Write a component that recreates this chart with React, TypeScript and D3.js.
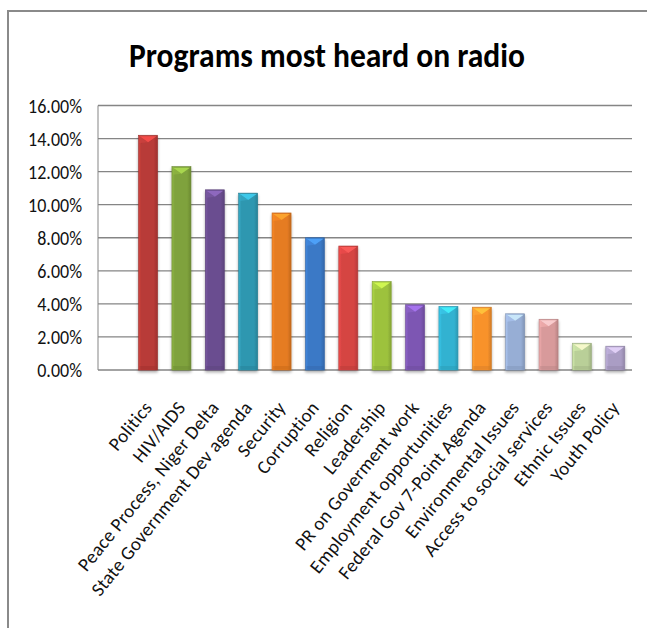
import React from "react";
import * as d3 from "d3";

const categories = [
  "Politics",
  "HIV/AIDS",
  "Peace Process, Niger Delta",
  "State Government Dev agenda",
  "Security",
  "Corruption",
  "Religion",
  "Leadership",
  "PR on Goverment work",
  "Employment opportunities",
  "Federal Gov 7-Point Agenda",
  "Environmental Issues",
  "Access to social services",
  "Ethnic Issues",
  "Youth Policy",
];

const values = [14.2, 12.3, 10.9, 10.7, 9.5, 8.0, 7.5, 5.35, 3.95, 3.85, 3.8, 3.4, 3.07, 1.62, 1.44];

const barColors = [
  "#B83A37", "#7FA23C", "#6B4E90", "#2F97B0", "#E57B22", "#3B79C6",
  "#D54443", "#9DC23E", "#7D57B3", "#32B2D1", "#F8922C", "#97AED5",
  "#D89A9B", "#B9CF98", "#AA9DC4",
];

const yTicks = [0, 2, 4, 6, 8, 10, 12, 14, 16];

const title = "Programs most heard on radio";

const W = 647;
const H = 628;
const plotLeft = 98;
const plotRight = 632;
const plotTop = 105.5;
const plotBottom = 370;
const font = "Carlito, Calibri, Lato, 'Open Sans', sans-serif";

export default function App() {
  const y = d3.scaleLinear().domain([0, 16]).range([plotBottom, plotTop]);
  const bandStep = (plotRight - plotLeft) / 16;
  const x = d3
    .scaleBand<string>()
    .domain(categories)
    .range([plotLeft + bandStep, plotRight])
    .paddingInner(0.43)
    .paddingOuter(0.215);
  const bw = x.bandwidth();

  return (
    <svg
      width={W}
      height={H}
      style={{ position: "absolute", left: 0, top: 0, background: "#fff" }}
    >
      <defs>
        {barColors.map((c, i) => {
          const base = d3.color(c)!;
          const light = d3.rgb(c).brighter(0.35).formatHex();
          const dark = d3.rgb(c).darker(0.45).formatHex();
          return (
            <linearGradient key={i} id={`g${i}`} x1="0" x2="1" y1="0" y2="0">
              <stop offset="0" stopColor={light} />
              <stop offset="0.15" stopColor={base.formatHex()} />
              <stop offset="0.8" stopColor={base.formatHex()} />
              <stop offset="1" stopColor={dark} />
            </linearGradient>
          );
        })}
        <filter id="shadow" x="-30%" y="-10%" width="160%" height="130%">
          <feGaussianBlur in="SourceAlpha" stdDeviation="1.5" />
          <feOffset dx="0" dy="2" result="ob" />
          <feComponentTransfer>
            <feFuncA type="linear" slope="0.35" />
          </feComponentTransfer>
          <feMerge>
            <feMergeNode />
            <feMergeNode in="SourceGraphic" />
          </feMerge>
        </filter>
      </defs>

      {/* frame */}
      <line x1={7} x2={W} y1={11} y2={11} stroke="#8a8a8a" strokeWidth={2} />
      <line x1={8} x2={8} y1={10} y2={H} stroke="#8a8a8a" strokeWidth={2} />

      {/* title */}
      <text
        x={327}
        y={67}
        textAnchor="middle"
        fontFamily={font}
        fontWeight="bold"
        fontSize={35}
        textLength={396}
        lengthAdjust="spacingAndGlyphs"
        fill="#000"
      >
        {title}
      </text>

      {/* gridlines */}
      {yTicks.map((t) => (
        <line
          key={t}
          x1={plotLeft}
          x2={plotRight}
          y1={y(t)}
          y2={y(t)}
          stroke="#858585"
          strokeWidth={1.3}
        />
      ))}
      <line x1={plotLeft} x2={plotLeft} y1={plotTop} y2={plotBottom} stroke="#858585" strokeWidth={1} />

      {/* y tick labels */}
      {yTicks.map((t) => (
        <text
          key={t}
          transform={`translate(82,${y(t)}) scale(0.9,1)`}
          dy="0.36em"
          textAnchor="end"
          fontFamily={font}
          fontSize={20}
          fill="#111"
        >
          {t.toFixed(2) + "%"}
        </text>
      ))}

      {/* bars */}
      {categories.map((c, i) => {
        const x0 = x(c)!;
        const top = y(values[i]);
        const h = plotBottom - top;
        const bev = 7;
        const hl = d3.rgb(barColors[i]).brighter(0.9).formatHex();
        const hl2 = d3.rgb(barColors[i]).brighter(0.45).formatHex();
        const dk = d3.rgb(barColors[i]).darker(0.5).formatHex();
        return (
          <g key={c} filter="url(#shadow)">
            <rect x={x0} y={top} width={bw} height={h} fill={`url(#g${i})`} stroke={dk} strokeWidth={0.6} />
            <polygon
              points={`${x0 + 1},${top + 1} ${x0 + bw - 1},${top + 1} ${x0 + bw / 2},${top + bev}`}
              fill={hl}
              opacity={0.85}
            />
            <polygon
              points={`${x0 + 1},${top + 1} ${x0 + bw / 2},${top + bev} ${x0 + 1},${top + bev + 1}`}
              fill={hl2}
              opacity={0.5}
            />
            <rect x={x0 + 1} y={plotBottom - 4} width={bw - 2} height={3} fill={dk} opacity={0.4} />
          </g>
        );
      })}

      {/* x labels */}
      {categories.map((c) => {
        const cx = x(c)! + bw / 2 + 5;
        const cy = plotBottom + 38;
        return (
          <text
            key={c}
            transform={`translate(${cx},${cy}) rotate(-51)`}
            textAnchor="end"
            fontFamily={font}
            fontSize={19}
            letterSpacing={0.3}
            fill="#111"
          >
            {c}
          </text>
        );
      })}
    </svg>
  );
}
